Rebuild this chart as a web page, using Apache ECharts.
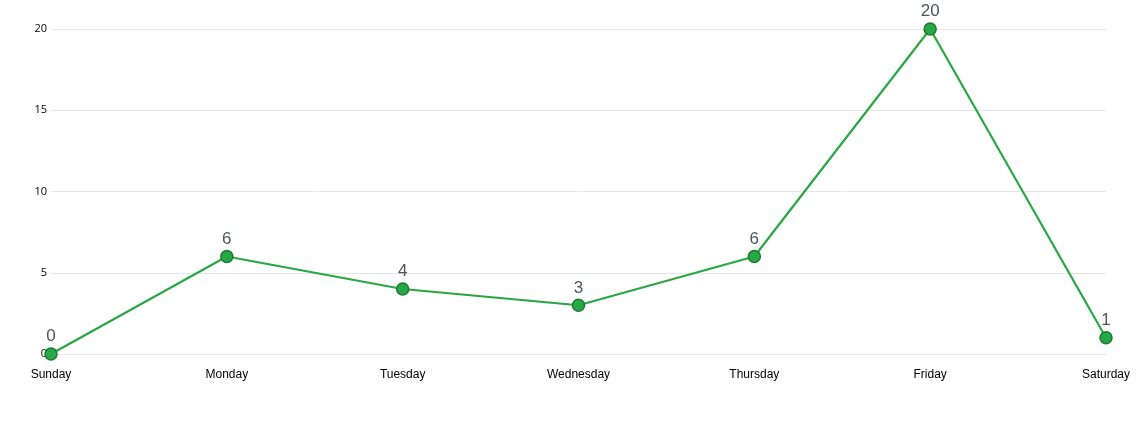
<!DOCTYPE html>
<html><head><meta charset="utf-8">
<script src="https://cdn.jsdelivr.net/npm/echarts@6/dist/echarts.min.js"></script>
<style>html,body{margin:0;padding:0;background:#fff}#c{width:1145px;height:427px}</style>
</head><body><div id="c"></div>
<script>
const categories = ['Sunday','Monday','Tuesday','Wednesday','Thursday','Friday','Saturday'];
const values = [0, 6, 4, 3, 6, 20, 1];
const yTicks = [0, 5, 10, 15, 20];

const chart = echarts.init(document.getElementById('c'), null, {renderer:'canvas'});
chart.setOption({
  animation: false,
  grid: {left: 51, right: 39, top: 29, bottom: 73, containLabel: false},
  xAxis: {
    type: 'category', data: categories, boundaryGap: false,
    axisLine: {show: false}, axisTick: {show: false},
    axisLabel: {color: '#000', fontSize: 12, fontFamily: 'Liberation Sans, Arial, sans-serif', margin: 15}
  },
  yAxis: {
    type: 'value', min: yTicks[0], max: yTicks[yTicks.length-1], interval: 5,
    axisLine: {show: false}, axisTick: {show: false},
    axisLabel: {color: '#000', fontSize: 11, fontFamily: 'Open Sans, sans-serif', margin: 4},
    splitLine: {lineStyle: {color: '#e6e6e6', width: 1}}
  },
  series: [{
    type: 'line', data: values,
    symbol: 'circle', symbolSize: 12,
    lineStyle: {color: '#28a745', width: 2.2},
    itemStyle: {color: '#28a745', borderColor: '#1f7a33', borderWidth: 1.5},
    label: {show: true, position: 'top', color: '#4d5560', fontSize: 17, fontFamily: 'Liberation Sans, Arial, sans-serif', distance: 2}
  }]
});
</script></body></html>
